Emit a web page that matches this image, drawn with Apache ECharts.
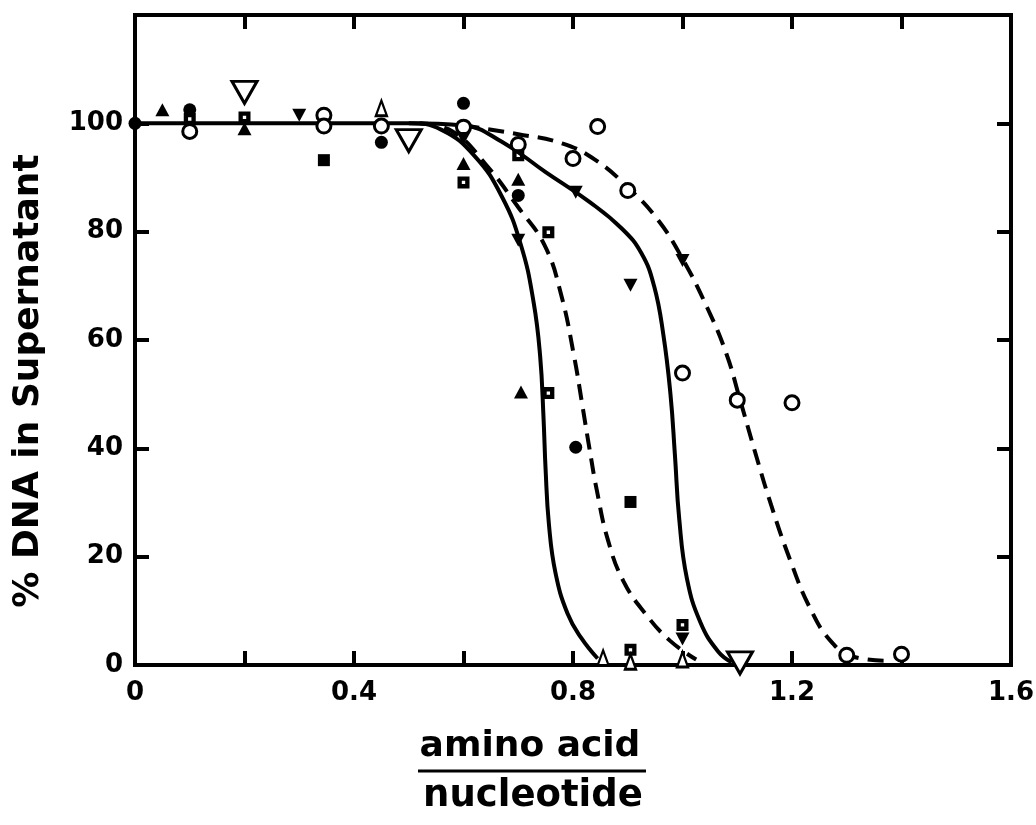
<!DOCTYPE html>
<html>
<head>
<meta charset="utf-8">
<script src="https://cdn.jsdelivr.net/npm/echarts/dist/echarts.min.js"></script>
<style>
  html, body { margin: 0; padding: 0; background: #fff; }
  #chart { width: 1036px; height: 825px; }
</style>
</head>
<body>
<div id="chart"></div>
<script>
// Axis ticks and labels
const xLabelValues = [0, 0.4, 0.8, 1.2, 1.6];
const xLabelTexts = ['0', '0.4', '0.8', '1.2', '1.6'];
const yLabelValues = [0, 20, 40, 60, 80, 100];

// Measured points, one array per symbol: [amino acid / nucleotide, % DNA in supernatant]
const filledTriangleUp = [[0.05, 102.5], [0.2, 99], [0.6, 92.6], [0.7, 89.7], [0.705, 50.4]];
const filledCircle = [[0, 100], [0.1, 102.5], [0.45, 96.5], [0.6, 103.7], [0.7, 86.7], [0.805, 40.2]];
const openCircle = [[0.1, 98.5], [0.345, 101.5], [0.345, 99.5], [0.45, 99.5], [0.6, 99.3], [0.7, 96.1],
  [0.8, 93.5], [0.845, 99.4], [0.9, 87.6], [1.0, 53.9], [1.1, 48.9], [1.2, 48.4], [1.3, 1.8], [1.4, 2]];
const filledSquare = [[0.345, 93.2], [0.905, 30.1]];
const dottedSquare = [[0.1, 100.8], [0.2, 101.1], [0.6, 89.1], [0.7, 94.1], [0.755, 79.9], [0.755, 50.2],
  [0.905, 2.8], [1.0, 7.4]];
const filledTriangleDown = [[0.3, 101.5], [0.6, 97.2], [0.7, 78.4], [0.805, 87.3], [0.905, 70.1], [1.0, 74.7], [1.0, 4.8]];
const openTriangleDown = [[0.2, 105.7], [0.5, 96.8], [1.105, 0.4]];
const openTriangleUp = [[0.45, 102.8], [0.855, 1.3], [0.905, 0.6], [1.0, 1]];

// Fitted curves
const curveSolid1 = [[0, 100], [0.5, 100], [0.56, 98.8], [0.62, 94], [0.67, 86.5], [0.705, 77.5],
  [0.728, 67], [0.74, 57], [0.746, 46], [0.75, 36], [0.756, 26], [0.768, 17], [0.79, 9.5], [0.815, 5], [0.845, 1.2]];
const curveDashed1 = [[0.52, 100], [0.58, 98.5], [0.64, 92.5], [0.7, 84.5], [0.748, 77.5], [0.778, 68.5],
  [0.802, 57], [0.817, 48], [0.83, 40], [0.844, 32], [0.864, 23], [0.892, 15.5], [0.932, 9.5], [0.977, 4.5], [1.025, 1]];
const curveSolid2 = [[0.5, 100], [0.6, 99.6], [0.67, 96.6], [0.75, 91], [0.83, 85.5], [0.89, 80.5],
  [0.925, 76], [0.948, 70], [0.965, 61], [0.978, 50], [0.986, 39], [0.994, 27], [1.008, 16], [1.033, 7.8],
  [1.065, 2.5], [1.09, 0.5]];
const curveDashed2 = [[0.6, 99.6], [0.7, 98], [0.78, 96.3], [0.84, 93.3], [0.9, 88.2], [0.955, 82.2],
  [1.0, 75], [1.045, 66], [1.08, 57.5], [1.105, 49], [1.132, 39.5], [1.162, 29.5], [1.198, 19], [1.233, 10.5],
  [1.27, 4.5], [1.31, 1.6], [1.37, 0.8]];

const INK = '#000';
const tickFont = { color: INK, fontFamily: 'DejaVu Sans', fontWeight: 'bold', fontSize: 26 };

function scatter(name, data, symbol, size, filled, extra) {
  return Object.assign({
    name: name,
    type: 'scatter',
    data: data,
    symbol: symbol,
    symbolSize: size,
    z: 5,
    itemStyle: filled
      ? { color: INK, borderWidth: 0, opacity: 1 }
      : { color: '#fff', borderColor: INK, borderWidth: 3, opacity: 1 }
  }, extra || {});
}

function curve(name, data, dashed) {
  return {
    name: name,
    type: 'line',
    data: data,
    symbol: 'none',
    smooth: 0.45,
    z: 3,
    lineStyle: { color: INK, width: 4, type: dashed ? [16, 9] : 'solid', cap: 'butt' }
  };
}

// square with a small hole in the middle
const holedSquare = 'path://M0,0H10V10H0Z M3.6,3.6V6.4H6.4V3.6Z';

const chart = echarts.init(document.getElementById('chart'), null, { renderer: 'canvas' });

const axisCommon = {
  type: 'value',
  axisLine: { show: true, onZero: false, lineStyle: { color: INK, width: 4 } },
  axisTick: { show: true, inside: true, length: 14, lineStyle: { color: INK, width: 4 } },
  splitLine: { show: false }
};

chart.setOption({
  backgroundColor: '#fff',
  animation: false,
  grid: { left: 135, right: 25, top: 15, bottom: 160, containLabel: false, outerBoundsMode: 'none',
    show: true, borderColor: INK, borderWidth: 4, backgroundColor: 'transparent' },
  xAxis: [
    Object.assign({}, axisCommon, {
      min: 0, max: 1.6, interval: 0.2, position: 'bottom',
      axisLabel: Object.assign({}, tickFont, {
        margin: 15,
        formatter: function (v) {
          for (let i = 0; i < xLabelValues.length; i++) {
            if (Math.abs(v - xLabelValues[i]) < 1e-6) return xLabelTexts[i];
          }
          return '';
        }
      })
    }),
    Object.assign({}, axisCommon, {
      min: 0, max: 1.6, interval: 0.2, position: 'top', axisLabel: { show: false }
    })
  ],
  yAxis: [
    Object.assign({}, axisCommon, {
      min: 0, max: 120, interval: 20, position: 'left',
      axisLabel: Object.assign({}, tickFont, {
        margin: 12,
        formatter: function (v) { return yLabelValues.indexOf(v) >= 0 ? String(v) : ''; }
      })
    }),
    Object.assign({}, axisCommon, {
      min: 0, max: 120, interval: 20, position: 'right', axisLabel: { show: false }
    })
  ],
  graphic: [
    { type: 'text', x: 29, y: 381, rotation: Math.PI / 2, z: 10,
      style: { text: '% DNA in Supernatant', fill: INK, font: 'bold 36px "DejaVu Sans"',
        align: 'center', verticalAlign: 'middle', textAlign: 'center', textVerticalAlign: 'middle' } },
    { type: 'text', x: 530, y: 747, z: 10,
      style: { text: 'amino acid', fill: INK, font: 'bold 36px "DejaVu Sans"',
        align: 'center', verticalAlign: 'middle', textAlign: 'center', textVerticalAlign: 'middle' } },
    { type: 'line', z: 10, shape: { x1: 418, y1: 771, x2: 646, y2: 771 },
      style: { stroke: INK, lineWidth: 3 } },
    { type: 'text', x: 533, y: 796, z: 10,
      style: { text: 'nucleotide', fill: INK, font: 'bold 37px "DejaVu Sans"',
        align: 'center', verticalAlign: 'middle', textAlign: 'center', textVerticalAlign: 'middle' } }
  ],
  series: [
    curve('Solid fit 1', curveSolid1, false),
    curve('Dashed fit 1', curveDashed1, true),
    curve('Solid fit 2', curveSolid2, false),
    curve('Dashed fit 2', curveDashed2, true),
    scatter('Filled triangle up', filledTriangleUp, 'triangle', [14, 13], true),
    scatter('Filled circle', filledCircle, 'circle', 13, true),
    scatter('Open circle', openCircle, 'circle', 14, false),
    scatter('Filled square', filledSquare, 'rect', 12, true),
    scatter('Dotted square', dottedSquare, holedSquare, 12, true),
    scatter('Filled triangle down', filledTriangleDown, 'triangle', [14, 13], true, { symbolRotate: 180 }),
    scatter('Open triangle down', openTriangleDown, 'triangle', [25, 22], false, { symbolRotate: 180 }),
    scatter('Open triangle up', openTriangleUp, 'triangle', [11, 15], false,
      { itemStyle: { color: '#fff', borderColor: INK, borderWidth: 2.5, opacity: 1 } })
  ]
});
</script>
</body>
</html>
